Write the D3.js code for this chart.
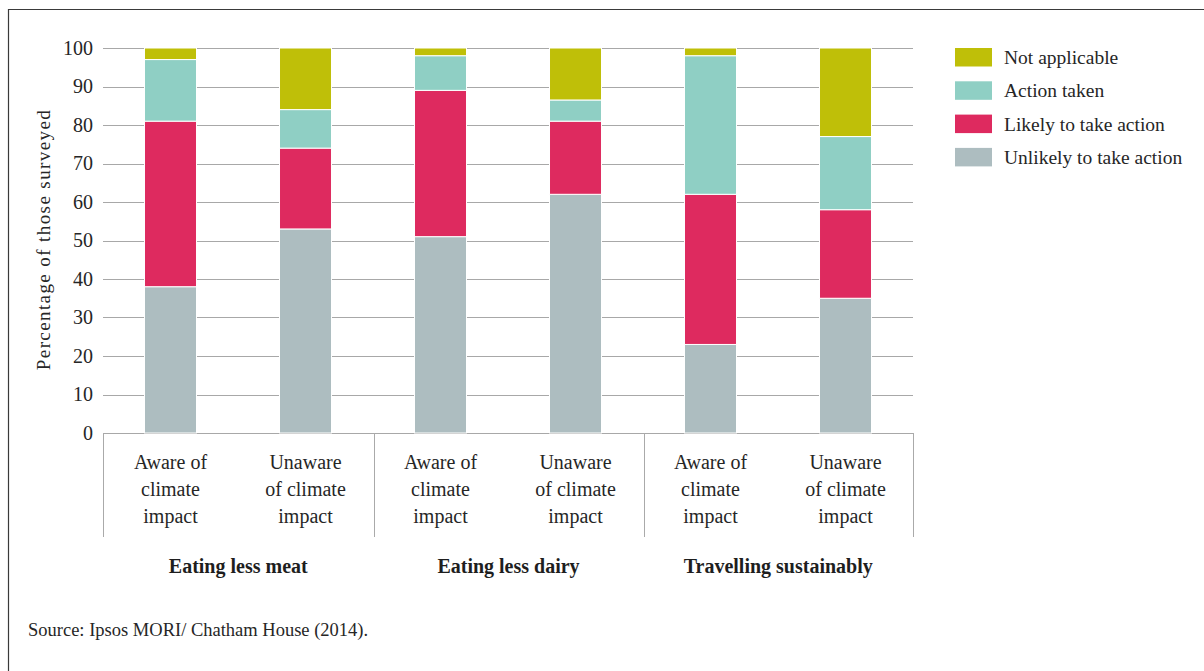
<!DOCTYPE html>
<html>
<head>
<meta charset="utf-8">
<script src="https://cdn.jsdelivr.net/npm/d3@7"></script>
<style>
  html, body { margin: 0; padding: 0; background: #fff; }
  svg { display: block; font-family: "Liberation Serif", "Times New Roman", serif; }
</style>
</head>
<body>
<svg id="chart" width="1204" height="671"></svg>
<script>
// Survey groups and sub-categories
const groups = ["Eating less meat", "Eating less dairy", "Travelling sustainably"];
const awareness = ["Aware of|climate|impact", "Unaware|of climate|impact"];
const categories = ["meat-aware", "meat-unaware", "dairy-aware", "dairy-unaware", "travel-aware", "travel-unaware"];

// Stacked series, bottom to top (percentage of those surveyed)
const seriesNames = ["Unlikely to take action", "Likely to take action", "Action taken", "Not applicable"];
const unlikely   = [38, 53, 51, 62, 23, 35];
const likely     = [43, 21, 38, 19, 39, 23];
const actionTaken = [16, 10, 9, 5.5, 36, 19];
const notApplicable = [3, 16, 2, 13.5, 2, 23];

const yTicks = [0, 10, 20, 30, 40, 50, 60, 70, 80, 90, 100];
const colors = ["#adbdc0", "#de2a5f", "#8fcfc4", "#bfbf08"];

const rows = categories.map((c, i) => ({
  cat: c,
  "Unlikely to take action": unlikely[i],
  "Likely to take action": likely[i],
  "Action taken": actionTaken[i],
  "Not applicable": notApplicable[i]
}));

const svg = d3.select("#chart");
const ink = "#262626";

// outer frame
svg.append("path")
  .attr("d", "M8.5,671 L8.5,9.5 L1204,9.5")
  .attr("fill", "none").attr("stroke", "#3a3a3a").attr("stroke-width", 1.2);

const x = d3.scaleBand().domain(categories).range([103, 913]).paddingInner(0.615).paddingOuter(0.3075);
const y = d3.scaleLinear().domain([0, 100]).range([433, 48]);
const color = d3.scaleOrdinal().domain(seriesNames).range(colors);

// gridlines
svg.append("g")
  .selectAll("line").data(yTicks).join("line")
  .attr("x1", 103).attr("x2", 913)
  .attr("y1", d => Math.round(y(d)) + 0.5).attr("y2", d => Math.round(y(d)) + 0.5)
  .attr("stroke", "#a8a8a8").attr("stroke-width", 1);

// y axis labels
const yAxis = d3.axisLeft(y).tickValues(yTicks).tickSize(0).tickPadding(10);
svg.append("g").attr("transform", "translate(103,0)").call(yAxis)
  .call(g => g.select(".domain").remove())
  .call(g => g.attr("font-family", null).attr("font-size", null))
  .call(g => g.selectAll("text")
    .attr("font-size", 20).attr("fill", ink));

// y title
svg.append("text")
  .attr("transform", `translate(50,${(y(0) + y(100)) / 2 - 1})rotate(-90)`)
  .attr("text-anchor", "middle")
  .attr("font-size", 19).attr("letter-spacing", 1.4).attr("fill", ink)
  .text("Percentage of those surveyed");

// stacked bars
const stack = d3.stack().keys(seriesNames)(rows);
svg.append("g")
  .selectAll("g").data(stack).join("g")
  .attr("fill", d => color(d.key))
  .selectAll("rect").data(d => d).join("rect")
  .attr("x", d => x(d.data.cat))
  .attr("width", x.bandwidth())
  .attr("y", d => y(d[1]))
  .attr("height", d => y(d[0]) - y(d[1]))
  .attr("stroke", "#fff").attr("stroke-width", 1);

// category box below the axis
const boxTop = y(0), boxBottom = 537;
const boxX = [103, 373.5, 643.5, 913];
svg.append("g").selectAll("line").data(boxX).join("line")
  .attr("x1", d => Math.round(d) + 0.5).attr("x2", d => Math.round(d) + 0.5)
  .attr("y1", boxTop).attr("y2", boxBottom)
  .attr("stroke", "#aaa").attr("stroke-width", 1);

// sub-category labels
const labelG = svg.append("g").attr("font-size", 20).attr("fill", ink).attr("text-anchor", "middle");
categories.forEach((c, i) => {
  const lines = awareness[i % 2].split("|");
  const t = labelG.append("text")
    .attr("x", x(c) + x.bandwidth() / 2)
    .attr("y", 469);
  lines.forEach((ln, k) => t.append("tspan")
    .attr("x", x(c) + x.bandwidth() / 2)
    .attr("dy", k === 0 ? 0 : 27)
    .text(ln));
});

// group labels
svg.append("g").selectAll("text").data(groups).join("text")
  .attr("x", (d, i) => (boxX[i] + boxX[i + 1]) / 2)
  .attr("y", 573)
  .attr("text-anchor", "middle")
  .attr("font-size", 20).attr("font-weight", "bold").attr("fill", "#1e1e1e")
  .text(d => d);

// legend (top to bottom mirrors the stack order)
const legendItems = seriesNames.slice().reverse();
const legend = svg.append("g").selectAll("g").data(legendItems).join("g")
  .attr("transform", (d, i) => `translate(955,${48 + i * 33.3})`);
legend.append("rect").attr("width", 37).attr("height", 18.5).attr("fill", d => color(d));
legend.append("text").attr("x", 49).attr("y", 16)
  .attr("font-size", 19.5).attr("fill", ink).text(d => d);

// source note
svg.append("text").attr("x", 28).attr("y", 636)
  .attr("font-size", 18.5).attr("fill", ink)
  .text("Source: Ipsos MORI/ Chatham House (2014).");
</script>
</body>
</html>
